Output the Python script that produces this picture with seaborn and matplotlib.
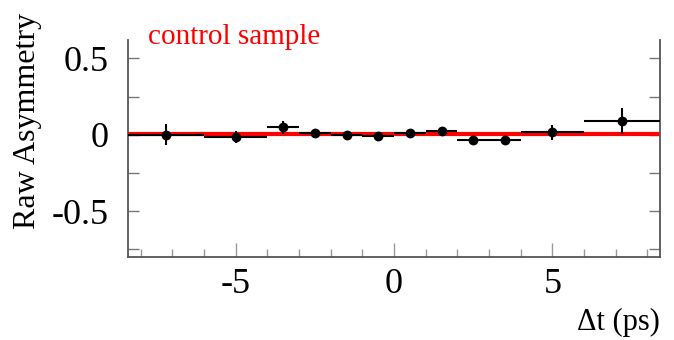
import numpy as np
import pandas as pd
import matplotlib
matplotlib.use("Agg")
import matplotlib.pyplot as plt
from matplotlib.ticker import FixedLocator, FixedFormatter
import seaborn as sns

# ---- data ----
bin_lo = [-8.4, -6.0, -4.0, -3.0, -2.0, -1.0, 0.0, 1.0, 2.0, 3.0, 4.0, 6.0]
bin_hi = [-6.0, -4.0, -3.0, -2.0, -1.0, 0.0, 1.0, 2.0, 3.0, 4.0, 6.0, 8.4]
asym = [0.000, -0.015, 0.048, 0.013, -0.002, -0.005, 0.013, 0.022, -0.035, -0.035, 0.015, 0.093]
asym_err = [0.07, 0.04, 0.04, 0.02, 0.02, 0.015, 0.015, 0.02, 0.02, 0.03, 0.05, 0.085]
fit_value = 0.005
x_range = [-8.4, 8.4]
y_range = [-0.8, 0.62]
xtick_major = [-5, 0, 5]
xtick_labels = ["-5", "0", "5"]
xtick_minor = [-8, -7, -6, -4, -3, -2, -1, 1, 2, 3, 4, 6, 7, 8]
ytick_major = [-0.5, 0.0, 0.5]
ytick_labels = ["-0.5", "0", "0.5"]
ytick_minor = [-0.75, -0.25, 0.25]
label_text = "control sample"
xlabel = "\u0394t (ps)"
ylabel = "Raw Asymmetry"

sns.set_style("white")
plt.rcParams["font.family"] = ["Liberation Serif", "DejaVu Serif"]
plt.rcParams["axes.unicode_minus"] = False
plt.rcParams["text.color"] = "black"
plt.rcParams["xtick.labelcolor"] = "black"
plt.rcParams["ytick.labelcolor"] = "black"

df = pd.DataFrame({
    "lo": bin_lo, "hi": bin_hi, "asym": asym, "err": asym_err,
})
df["x"] = (df["lo"] + df["hi"]) / 2
df["xerr"] = (df["hi"] - df["lo"]) / 2

fig = plt.figure(figsize=(6.74, 3.40), dpi=100)
ax = fig.add_axes([128 / 674, 1 - 257 / 340, (660 - 128) / 674, (257 - 40) / 340])

# fit line
fit_df = pd.DataFrame({"x": x_range, "y": [fit_value, fit_value]})
sns.lineplot(data=fit_df, x="x", y="y", ax=ax, color="#ff0000", linewidth=3.0, zorder=2)

# error bars
ax.errorbar(df["x"], df["asym"], xerr=df["xerr"], yerr=df["err"], fmt="none",
            ecolor="black", elinewidth=1.5, capsize=0, zorder=3)
# points
sns.scatterplot(data=df, x="x", y="asym", ax=ax, color="black", s=50,
                edgecolor="black", linewidth=0, zorder=4)

ax.set_xlim(*x_range)
ax.set_ylim(*y_range)

ax.xaxis.set_major_locator(FixedLocator(xtick_major))
ax.xaxis.set_major_formatter(FixedFormatter(xtick_labels))
ax.xaxis.set_minor_locator(FixedLocator(xtick_minor))
ax.yaxis.set_major_locator(FixedLocator(ytick_major))
ax.yaxis.set_major_formatter(FixedFormatter(ytick_labels))
ax.yaxis.set_minor_locator(FixedLocator(ytick_minor))

spine_col = "#555555"
for side in ["left", "right", "bottom"]:
    ax.spines[side].set_visible(True)
    ax.spines[side].set_color(spine_col)
    ax.spines[side].set_linewidth(1.3)
ax.spines["top"].set_visible(False)

ax.tick_params(axis="x", which="major", direction="in", length=10, width=1.0,
               color="#999999", labelsize=26, pad=8, bottom=True, labelcolor="black")
ax.tick_params(axis="x", which="minor", direction="in", length=6, width=1.0,
               color="#999999", bottom=True)
ax.tick_params(axis="y", which="both", direction="in", length=8, width=1.0,
               color="#777777", left=True, right=True, labelsize=26, pad=14,
               labelcolor="black")

ax.set_xlabel("")
ax.set_ylabel("")
fig.text(660 / 674, 1 - 322 / 340, xlabel, ha="right", va="center", fontsize=22,
         color="black")
fig.text(28 / 674, 1 - 13 / 340, ylabel, ha="center", va="top", rotation=90,
         fontsize=23, color="black")

fig.text(148 / 674, 1 - 44 / 340, label_text, ha="left", va="baseline", fontsize=21,
         color="#ff0000",
         bbox=dict(facecolor="white", edgecolor="none", pad=1))

fig.savefig("out.png", dpi=100)
